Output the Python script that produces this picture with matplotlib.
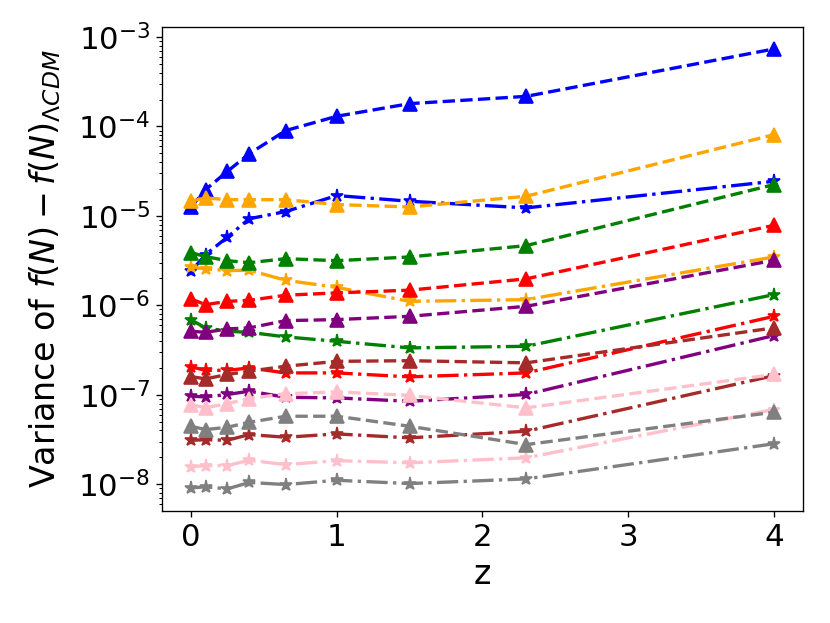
import numpy as np
import matplotlib.pyplot as plt

z = [0.0, 0.1, 0.25, 0.4, 0.65, 1.0, 1.5, 2.3, 4.0]

colors = ['blue', 'orange', 'green', 'red', 'purple', 'brown', 'pink', 'gray']

# dashed lines with triangles
var_tri = {
    'blue':   [1.25e-5, 1.97e-5, 3.15e-5, 4.96e-5, 9.0e-5, 1.30e-4, 1.80e-4, 2.17e-4, 7.35e-4],
    'orange': [1.46e-5, 1.59e-5, 1.52e-5, 1.52e-5, 1.52e-5, 1.34e-5, 1.26e-5, 1.66e-5, 8.09e-5],
    'green':  [3.89e-6, 3.51e-6, 3.16e-6, 3.0e-6, 3.33e-6, 3.16e-6, 3.48e-6, 4.66e-6, 2.24e-5],
    'red':    [1.18e-6, 1.02e-6, 1.11e-6, 1.14e-6, 1.30e-6, 1.38e-6, 1.48e-6, 1.98e-6, 7.85e-6],
    'purple': [5.14e-7, 5.0e-7, 5.46e-7, 5.61e-7, 6.76e-7, 6.94e-7, 7.55e-7, 9.77e-7, 3.19e-6],
    'brown':  [1.60e-7, 1.51e-7, 1.69e-7, 1.84e-7, 2.09e-7, 2.37e-7, 2.41e-7, 2.28e-7, 5.61e-7],
    'pink':   [7.8e-8, 7.16e-8, 8.0e-8, 9.1e-8, 1.03e-7, 1.08e-7, 9.86e-8, 7.16e-8, 1.69e-7],
    'gray':   [4.46e-8, 4.09e-8, 4.35e-8, 4.94e-8, 5.77e-8, 5.77e-8, 4.46e-8, 2.78e-8, 6.4e-8],
}

# dash-dot lines with stars
var_star = {
    'blue':   [2.4e-6, 3.7e-6, 5.8e-6, 9.3e-6, 1.12e-5, 1.69e-5, 1.46e-5, 1.23e-5, 2.44e-5],
    'orange': [2.69e-6, 2.56e-6, 2.45e-6, 2.47e-6, 1.91e-6, 1.59e-6, 1.11e-6, 1.16e-6, 3.48e-6],
    'green':  [6.9e-7, 5.61e-7, 5.14e-7, 5.0e-7, 4.45e-7, 3.97e-7, 3.35e-7, 3.49e-7, 1.32e-6],
    'red':    [2.06e-7, 1.88e-7, 1.88e-7, 2.0e-7, 1.76e-7, 1.76e-7, 1.59e-7, 1.76e-7, 7.55e-7],
    'purple': [9.64e-8, 9.5e-8, 1.01e-7, 1.10e-7, 9.4e-8, 9.25e-8, 8.48e-8, 1.01e-7, 4.6e-7],
    'brown':  [3.11e-8, 3.15e-8, 3.11e-8, 3.6e-8, 3.36e-8, 3.66e-8, 3.31e-8, 3.92e-8, 1.64e-7],
    'pink':   [1.57e-8, 1.62e-8, 1.62e-8, 1.86e-8, 1.66e-8, 1.84e-8, 1.74e-8, 1.98e-8, 6.86e-8],
    'gray':   [9.14e-9, 9.37e-9, 8.9e-9, 1.05e-8, 9.94e-9, 1.11e-8, 1.02e-8, 1.15e-8, 2.84e-8],
}

fig = plt.figure(figsize=(830 / 120, 623 / 120), dpi=120)
ax = fig.add_subplot(111)
fig.subplots_adjust(left=0.195, right=0.9675, top=0.9567, bottom=0.18)

for c in colors:
    ax.plot(z, var_tri[c], linestyle='--', marker='^', color=c, linewidth=2, markersize=8)
    ax.plot(z, var_star[c], linestyle='-.', marker='*', color=c, linewidth=2, markersize=8)

ax.set_yscale('log')
ax.set_xlabel('z', fontsize=20)
ax.set_ylabel(r'Variance of $f(N) - f(N)_{\Lambda CDM}$', fontsize=20, labelpad=9)
ax.tick_params(axis='both', labelsize=18.5)

plt.savefig('out.png', dpi=120)
